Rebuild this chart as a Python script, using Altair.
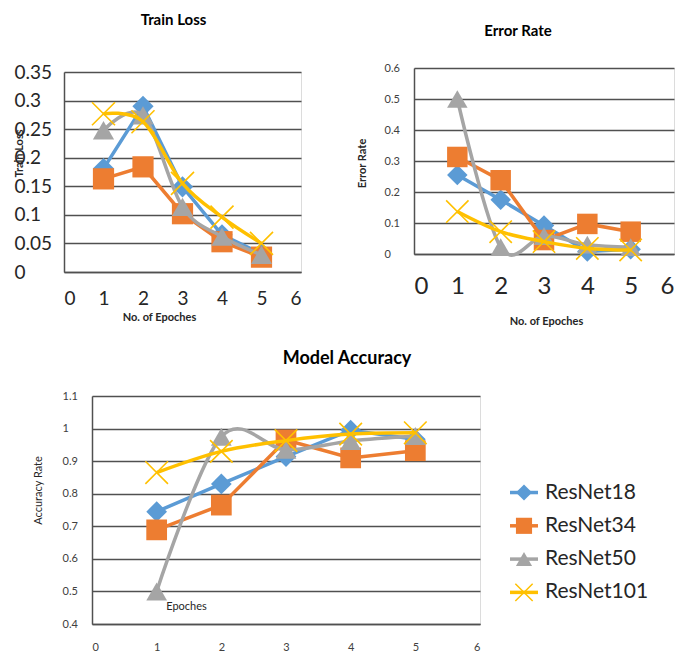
import altair as alt
import pandas as pd

series = ["ResNet18", "ResNet34", "ResNet50", "ResNet101"]
epochs = [1, 2, 3, 4, 5]

loss_resnet18 = [0.181, 0.29, 0.149, 0.065, 0.032]
loss_resnet34 = [0.163, 0.184, 0.102, 0.053, 0.026]
loss_resnet50 = [0.248, 0.274, 0.114, 0.062, 0.030]
loss_resnet101 = [0.277, 0.263, 0.155, 0.096, 0.050]

err_resnet18 = [0.255, 0.175, 0.092, 0.008, 0.015]
err_resnet34 = [0.313, 0.238, 0.045, 0.097, 0.072]
err_resnet50 = [0.50, 0.022, 0.058, 0.030, 0.022]
err_resnet101 = [0.137, 0.072, 0.040, 0.018, 0.013]

acc_resnet18 = [0.745, 0.83, 0.914, 0.995, 0.967]
acc_resnet34 = [0.689, 0.765, 0.965, 0.91, 0.932]
acc_resnet50 = [0.50, 0.975, 0.935, 0.962, 0.977]
acc_resnet101 = [0.865, 0.93, 0.963, 0.983, 0.987]

x_ticks = [0, 1, 2, 3, 4, 5, 6]
loss_ticks = [0, 0.05, 0.1, 0.15, 0.2, 0.25, 0.3, 0.35]
err_ticks = [0, 0.1, 0.2, 0.3, 0.4, 0.5, 0.6]
acc_ticks = [0.4, 0.5, 0.6, 0.7, 0.8, 0.9, 1, 1.1]

colors = ["#5B9BD5", "#ED7D31", "#A5A5A5", "#FFC000"]
shapes = ["diamond", "square", "triangle-up", "M-1,-1L1,1M1,-1L-1,1"]
interps = ["linear", "linear", "cardinal", "cardinal"]

FONT = "Lato"


def frame(vals):
    rows = []
    for s, v in zip(series, vals):
        for e, y in zip(epochs, v):
            rows.append({"series": s, "epoch": e, "value": y})
    return pd.DataFrame(rows)


def panel(vals, ydomain, w, h, xaxis, yaxis, tparams, msize=450):
    df = frame(vals)
    xs = alt.Scale(domain=[0, 6], nice=False, zero=False)
    ys = alt.Scale(domain=ydomain, nice=False, zero=False)
    layers = []
    for i, s in enumerate(series):
        base = alt.Chart(df).transform_filter(alt.datum.series == s)
        enc = dict(
            x=alt.X("epoch:Q", scale=xs, axis=xaxis),
            y=alt.Y("value:Q", scale=ys, axis=yaxis),
        )
        layers.append(base.mark_line(color=colors[i], strokeWidth=3.5,
                                     interpolate=interps[i]).encode(**enc))
        if i == 3:
            layers.append(base.mark_point(shape=shapes[i], filled=False, color=colors[i],
                                          strokeWidth=1.6, size=msize + 80, opacity=1).encode(**enc))
        else:
            layers.append(base.mark_point(shape=shapes[i], filled=True, color=colors[i],
                                          size=msize, opacity=1).encode(**enc))
    return alt.layer(*layers).properties(width=w, height=h, title=tparams)


def blank(w, h):
    return alt.Chart(pd.DataFrame({"v": [0]})).mark_point(opacity=0).encode(
        x=alt.value(0), y=alt.value(0)).properties(
        width=w, height=h, view=alt.ViewBackground(stroke="transparent"))


grid_common = dict(grid=True, gridColor="#505050", gridWidth=1.5, ticks=False,
                   domain=True, domainColor="#505050", domainWidth=1.5,
                   labelFont=FONT, titleFont=FONT, format="~g")

# Train loss
tl_x = alt.Axis(values=x_ticks, grid=False, ticks=False, domain=True, domainColor="#505050",
                domainWidth=1.5, labelFont=FONT, labelFontSize=19, labelColor="#262626",
                labelBaseline="middle", labelPadding=26, title="No. of Epoches",
                titleFont=FONT, titleFontSize=11, titleFontWeight="bold", titleColor="#262626",
                titleX=95, titleY=45, titleBaseline="middle")
tl_y = alt.Axis(values=loss_ticks, labelFontSize=19, labelColor="#262626", labelAlign="left",
                labelPadding=50, title="Train Loss", titleFontSize=11, titleFontWeight="bold",
                titleColor="#262626", titleX=-45, titleY=81, titleBaseline="middle", **grid_common)
train = panel([loss_resnet18, loss_resnet34, loss_resnet50, loss_resnet101],
              [0, 0.35], 237, 200, tl_x, tl_y,
              alt.TitleParams("Train Loss", font=FONT, fontSize=15, fontWeight="bold",
                              color="#000000", frame="group", anchor="middle", dx=-9, offset=35))

# Error rate
er_x = alt.Axis(values=x_ticks, grid=False, ticks=False, domain=True, domainColor="#505050",
                domainWidth=1.5, labelFont=FONT, labelFontSize=24, labelColor="#262626",
                labelBaseline="middle", labelPadding=32, title="No. of Epoches",
                titleFont=FONT, titleFontSize=11, titleFontWeight="bold", titleColor="#262626",
                titleX=132, titleY=67, titleBaseline="middle")
er_y = alt.Axis(values=err_ticks, labelFontSize=11, labelColor="#404040", labelAlign="left",
                labelPadding=30, title="Error Rate", titleFontSize=11, titleFontWeight="bold",
                titleColor="#262626", titleX=-52, titleY=95, titleBaseline="middle", **grid_common)
error = panel([err_resnet18, err_resnet34, err_resnet50, err_resnet101],
              [0, 0.6], 260, 186, er_x, er_y,
              alt.TitleParams("Error Rate", font=FONT, fontSize=15, fontWeight="bold",
                              color="#000000", frame="group", anchor="middle", dx=-26, offset=23),
              msize=420)

# Accuracy
ac_x = alt.Axis(values=x_ticks, grid=False, ticks=False, domain=True, domainColor="#505050",
                domainWidth=1.5, labelFont=FONT, labelFontSize=11, labelColor="#404040",
                labelBaseline="middle", labelPadding=23, title="Epoches",
                titleFont=FONT, titleFontSize=11, titleFontWeight="normal", titleColor="#262626",
                titleX=94, titleY=-18, titleBaseline="middle")
ac_y = alt.Axis(values=acc_ticks, labelFontSize=11, labelColor="#404040", labelAlign="left",
                labelPadding=30, title="Accuracy Rate", titleFontSize=11, titleFontWeight="normal",
                titleColor="#262626", titleX=-54, titleY=94, titleBaseline="middle", **grid_common)
accuracy = panel([acc_resnet18, acc_resnet34, acc_resnet50, acc_resnet101],
                 [0.4, 1.1], 388, 228, ac_x, ac_y,
                 alt.TitleParams("Model Accuracy", font=FONT, fontSize=18, fontWeight="bold",
                                 color="#000000", frame="group", anchor="middle", dx=61, offset=22),
                 msize=430)

# Manual legend
leg_df = pd.DataFrame({"series": series, "idx": list(range(len(series)))})
ly = alt.Y("idx:Q", scale=alt.Scale(domain=[-2.9, 3.95], reverse=True, nice=False, zero=False), axis=None)
leg_layers = []
for i, s in enumerate(series):
    b = alt.Chart(leg_df).transform_filter(alt.datum.series == s)
    leg_layers.append(b.mark_rule(color=colors[i], strokeWidth=3.5).encode(
        x=alt.value(10), x2=alt.value(38), y=ly))
    if i == 3:
        leg_layers.append(b.mark_point(shape=shapes[i], filled=False, color=colors[i],
                                       strokeWidth=1.5, size=300, opacity=1).encode(x=alt.value(24), y=ly))
    else:
        leg_layers.append(b.mark_point(shape=shapes[i], filled=True, color=colors[i],
                                       size=260, opacity=1).encode(x=alt.value(24), y=ly))
    leg_layers.append(b.mark_text(align="left", baseline="middle", font=FONT, fontSize=21,
                                  color="#262626").encode(x=alt.value(45), y=ly, text="series:N"))
legend = alt.layer(*leg_layers).properties(width=175, height=228,
                                          view=alt.ViewBackground(stroke="transparent"))

train_col = alt.vconcat(blank(237, 4), train, spacing=0, bounds="flush")
top = alt.hconcat(train_col, error, spacing=350, bounds="flush")
bottom = alt.hconcat(blank(8, 228), accuracy, legend, spacing=20, bounds="flush")

chart = alt.vconcat(top, bottom, spacing=328, bounds="flush").properties(
    padding={"left": 12, "top": 12, "right": 0, "bottom": 0},
    background="white",
).configure_view(stroke="#dcdcdc", strokeWidth=1)

chart.save("out.html", embed_options={"renderer": "svg", "actions": False})
